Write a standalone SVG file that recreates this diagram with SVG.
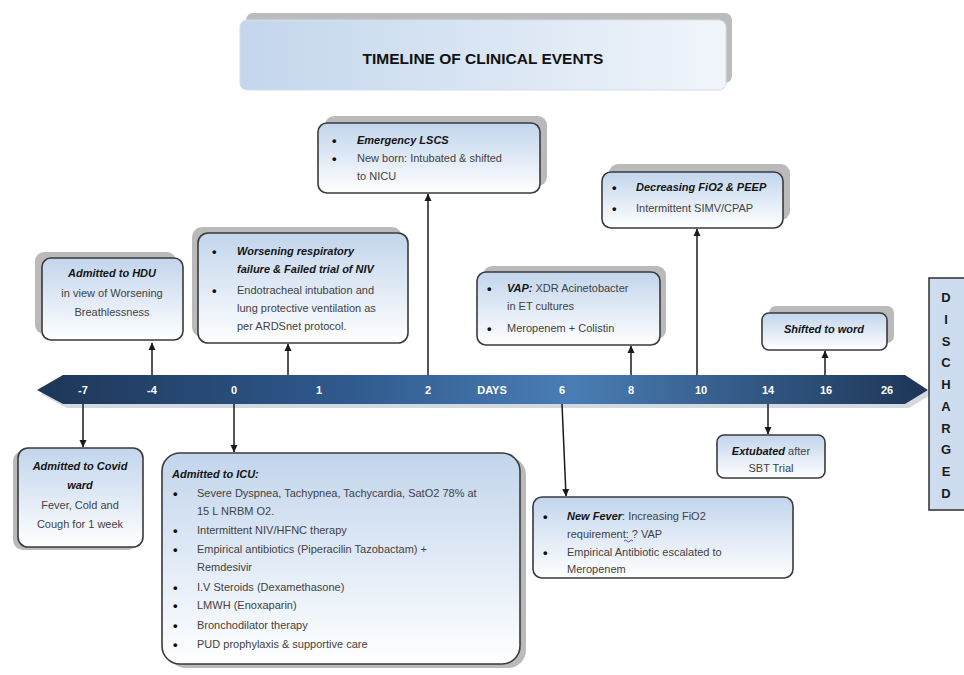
<svg xmlns="http://www.w3.org/2000/svg" width="964" height="675" viewBox="0 0 964 675">
<style>
text{font-family:"Liberation Sans",Arial,sans-serif;}
.box{fill:url(#boxg);stroke:#3a3a3a;stroke-width:1.6;}
.sh{fill:#bababa;}
.t{font-size:11px;fill:#424242;}
.bu{font-size:13px;fill:#111111;font-weight:bold;}
.b{font-size:11px;fill:#141414;font-weight:bold;font-style:italic;}
.c{text-anchor:middle;}
.tl{font-size:11px;fill:#ffffff;font-weight:bold;text-anchor:middle;}
.con{stroke:#1a1a1a;stroke-width:1.5;fill:none;marker-end:url(#ah);}
.dl{font-size:13px;font-weight:bold;fill:#1a1a1a;text-anchor:middle;}
</style>
<defs>
<linearGradient id="boxg" x1="0" y1="0" x2="0" y2="1">
<stop offset="0" stop-color="#c2d5ec"/>
<stop offset="1" stop-color="#ffffff"/>
</linearGradient>
<linearGradient id="titg" x1="0" y1="0" x2="1" y2="0">
<stop offset="0" stop-color="#c3d6ec"/>
<stop offset="1" stop-color="#f0f5fb"/>
</linearGradient>
<linearGradient id="tlg" x1="0" y1="0" x2="1" y2="0">
<stop offset="0" stop-color="#1d3657"/>
<stop offset="0.35" stop-color="#2f5a8e"/>
<stop offset="0.6" stop-color="#4a7db5"/>
<stop offset="1" stop-color="#1c3556"/>
</linearGradient>
<marker id="ah" markerWidth="8" markerHeight="8" refX="7" refY="4" orient="auto" markerUnits="userSpaceOnUse">
<path d="M0,0.5 L7.5,4 L0,7.5 Z" fill="#1a1a1a"/>
</marker>
</defs>
<rect width="964" height="675" fill="#ffffff"/>

<g id="title">
<rect x="246" y="13" width="486" height="70" rx="7" fill="#bcbcbc"/>
<rect x="240" y="20" width="486" height="70" rx="7" fill="url(#titg)" stroke="#d4dde8" stroke-width="1"/>
<text x="483" y="64" font-size="15.5" font-weight="bold" fill="#111" text-anchor="middle">TIMELINE OF CLINICAL EVENTS</text>
</g>

<g id="timeline">
<polygon points="41,394 67,379 909,379 932,394 909,408 67,408" fill="#d3d9e0"/>
<polygon points="37,390 63,375 905,375 928,390 905,404 63,404" fill="url(#tlg)"/>
<text class="tl" x="83" y="394">-7</text>
<text class="tl" x="152" y="394">-4</text>
<text class="tl" x="234" y="394">0</text>
<text class="tl" x="319" y="394">1</text>
<text class="tl" x="428" y="394">2</text>
<text class="tl" x="492" y="394">DAYS</text>
<text class="tl" x="562" y="394">6</text>
<text class="tl" x="631" y="394">8</text>
<text class="tl" x="701" y="394">10</text>
<text class="tl" x="768" y="394">14</text>
<text class="tl" x="826" y="394">16</text>
<text class="tl" x="887" y="394">26</text>
</g>

<g id="connectors">
<line class="con" x1="152" y1="375" x2="152" y2="343"/>
<line class="con" x1="288" y1="375" x2="288" y2="344"/>
<line class="con" x1="428" y1="375" x2="428" y2="194"/>
<line class="con" x1="631" y1="375" x2="631" y2="346"/>
<line class="con" x1="697" y1="375" x2="697" y2="229"/>
<line class="con" x1="825" y1="375" x2="825" y2="351"/>
<line class="con" x1="83" y1="404" x2="83" y2="447"/>
<line class="con" x1="234" y1="404" x2="234" y2="452"/>
<line class="con" x1="562" y1="404" x2="566" y2="496"/>
<line class="con" x1="768" y1="404" x2="768" y2="434"/>
</g>

<g id="hdu">
<rect class="sh" x="35" y="252" width="141" height="82" rx="9"/>
<rect class="box" x="42" y="258" width="141" height="82" rx="9"/>
<text class="b c" x="112" y="277">Admitted to HDU</text>
<text class="t c" x="112" y="297">in view of Worsening</text>
<text class="t c" x="112" y="316">Breathlessness</text>
</g>

<g id="worsening">
<rect class="sh" x="192" y="227" width="210" height="110" rx="10"/>
<rect class="box" x="198" y="233" width="210" height="110" rx="10"/>
<text class="bu" x="212" y="256">•</text>
<text class="b" x="237" y="255">Worsening respiratory</text>
<text class="b" x="237" y="273">failure &amp; Failed trial of NIV</text>
<text class="bu" x="212" y="295">•</text>
<text class="t" x="237" y="294">Endotracheal intubation and</text>
<text class="t" x="237" y="312">lung protective ventilation as</text>
<text class="t" x="237" y="330">per ARDSnet protocol.</text>
</g>

<g id="lscs">
<rect class="sh" x="325" y="116" width="222" height="70" rx="9"/>
<rect class="box" x="318" y="123" width="222" height="70" rx="9"/>
<text class="bu" x="332" y="145">•</text>
<text class="b" x="357" y="144">Emergency LSCS</text>
<text class="bu" x="332" y="163">•</text>
<text class="t" x="357" y="162">New born: Intubated &amp; shifted</text>
<text class="t" x="357" y="180">to NICU</text>
</g>

<g id="vap">
<rect class="sh" x="483" y="266" width="183" height="73" rx="9"/>
<rect class="box" x="477" y="272" width="183" height="73" rx="9"/>
<text class="bu" x="487" y="293">•</text>
<text class="b" x="507" y="292">VAP:<tspan class="t" font-weight="normal" font-style="normal"> XDR Acinetobacter</tspan></text>
<text class="t" x="507" y="310">in ET cultures</text>
<text class="bu" x="487" y="333">•</text>
<text class="t" x="507" y="332">Meropenem + Colistin</text>
</g>

<g id="decreasing">
<rect class="sh" x="609" y="164" width="181" height="56" rx="9"/>
<rect class="box" x="602" y="172" width="181" height="56" rx="9"/>
<text class="bu" x="612" y="192">•</text>
<text class="b" x="636" y="191">Decreasing FiO2 &amp; PEEP</text>
<text class="bu" x="612" y="213">•</text>
<text class="t" x="636" y="212">Intermittent SIMV/CPAP</text>
</g>

<g id="shifted">
<rect class="sh" x="769" y="306" width="125" height="37" rx="7"/>
<rect class="box" x="762" y="313" width="125" height="37" rx="7"/>
<text class="b c" x="824" y="333">Shifted to word</text>
</g>

<g id="covid">
<rect class="sh" x="13" y="451" width="125" height="99" rx="10"/>
<rect class="box" x="18" y="448" width="125" height="99" rx="10"/>
<text class="b c" x="80" y="470">Admitted to Covid</text>
<text class="b c" x="80" y="489">ward</text>
<text class="t c" x="80" y="509">Fever, Cold and</text>
<text class="t c" x="80" y="528">Cough for 1 week</text>
</g>

<g id="icu">
<rect class="sh" x="168" y="457" width="358" height="211" rx="18"/>
<rect class="box" x="162" y="453" width="358" height="211" rx="18"/>
<text class="b" x="172" y="478">Admitted to ICU:</text>
<text class="bu" x="173" y="498">•</text>
<text class="t" x="197" y="497">Severe Dyspnea, Tachypnea, Tachycardia, SatO2 78% at</text>
<text class="t" x="197" y="515">15 L NRBM O2.</text>
<text class="bu" x="173" y="535">•</text>
<text class="t" x="197" y="534">Intermittent NIV/HFNC therapy</text>
<text class="bu" x="173" y="554">•</text>
<text class="t" x="197" y="553">Empirical antibiotics (Piperacilin Tazobactam) +</text>
<text class="t" x="197" y="571">Remdesivir</text>
<text class="bu" x="173" y="592">•</text>
<text class="t" x="197" y="591">I.V Steroids (Dexamethasone)</text>
<text class="bu" x="173" y="610">•</text>
<text class="t" x="197" y="609">LMWH (Enoxaparin)</text>
<text class="bu" x="173" y="630">•</text>
<text class="t" x="197" y="629">Bronchodilator therapy</text>
<text class="bu" x="173" y="649">•</text>
<text class="t" x="197" y="648">PUD prophylaxis &amp; supportive care</text>
</g>

<g id="newfever">
<rect class="box" x="533" y="497" width="260" height="81" rx="9"/>
<text class="bu" x="543" y="521">•</text>
<text class="b" x="567" y="520">New Fever<tspan class="t" font-weight="normal" font-style="normal">: Increasing FiO2</tspan></text>
<text class="t" x="567" y="538">requirement: ? VAP</text>
<path d="M624,541 q1.5,-2 3,0 t3,0 t3,0" fill="none" stroke="#3a4fc0" stroke-width="1"/>
<text class="bu" x="543" y="557">•</text>
<text class="t" x="567" y="556">Empirical Antibiotic escalated to</text>
<text class="t" x="567" y="573">Meropenem</text>
</g>

<g id="extubated">
<rect class="box" x="717" y="435" width="108" height="43" rx="7"/>
<text class="b c" x="771" y="455">Extubated<tspan class="t" font-weight="normal" font-style="normal"> after</tspan></text>
<text class="t c" x="771" y="472">SBT Trial</text>
</g>

<g id="discharged">
<rect x="929" y="278" width="42" height="232" fill="#cddcee" stroke="#3a3a3a" stroke-width="1.6"/>
<text class="dl" x="946" y="302">D</text>
<text class="dl" x="946" y="324">I</text>
<text class="dl" x="946" y="346">S</text>
<text class="dl" x="946" y="367">C</text>
<text class="dl" x="946" y="389">H</text>
<text class="dl" x="946" y="411">A</text>
<text class="dl" x="946" y="433">R</text>
<text class="dl" x="946" y="454">G</text>
<text class="dl" x="946" y="476">E</text>
<text class="dl" x="946" y="498">D</text>
</g>
</svg>
